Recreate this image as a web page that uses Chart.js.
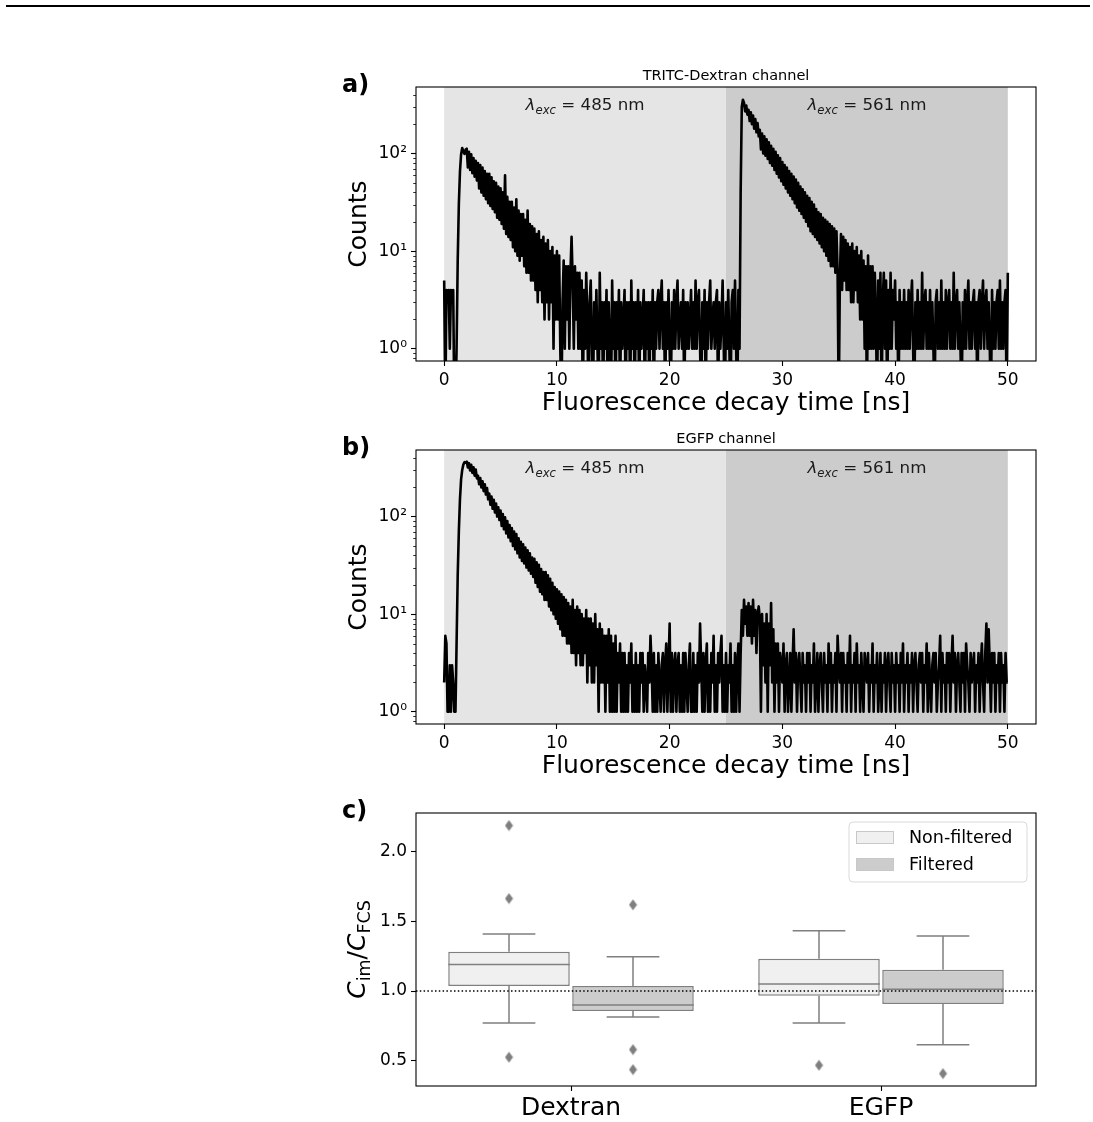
<!DOCTYPE html>
<html>
<head>
<meta charset="utf-8">
<title>Fluorescence decay and concentration ratio</title>
<script src="https://cdn.jsdelivr.net/npm/chart.js@4.4.1/dist/chart.umd.min.js"></script>
<style>
    html, body { margin: 0; padding: 0; background: #fff; }
    body { width: 1093px; height: 1122px; position: relative; overflow: hidden; }
    .top-rule { position: absolute; left: 6px; top: 5px; width: 1084px; height: 2px; background: #000; }
    canvas { position: absolute; left: 330px; }
    #decayA { top: 60px; }
    #decayB { top: 423px; }
    #ratioC { top: 786px; }
</style>
</head>
<body>
<div class="top-rule"></div>
<canvas id="decayA" width="763" height="359"></canvas>
<canvas id="decayB" width="763" height="359"></canvas>
<canvas id="ratioC" width="763" height="336"></canvas>

<script>
/* ── Data: decay histograms (counts per 0.1 ns bin, 0 … 50 ns) ── */
const binWidthNs = 0.1;
const timeTicks = [0, 10, 20, 30, 40, 50];
const countTicks = [1, 10, 100];
const excitationEdges = [0, 25, 50];
const excitationLabels = ['485', '561'];

const tritcCounts = [
    5, 0, 4, 3, 4, 1, 4, 3, 4, 0,
    0, 1, 8, 30, 65, 98, 114, 104, 99, 110,
    112, 72, 104, 68, 98, 63, 90, 58, 84, 53,
    80, 44, 76, 40, 72, 37, 66, 34, 62, 31,
    62, 29, 57, 27, 52, 25, 50, 22, 46, 21,
    44, 19, 40, 17, 60, 15, 36, 14, 32, 13,
    32, 11, 28, 10, 34, 9, 26, 8, 24, 9,
    24, 7, 21, 6, 26, 6, 19, 5, 18, 5,
    17, 4, 15, 3, 16, 4, 13, 3, 14, 2,
    12, 3, 13, 2, 10, 3, 11, 1, 9, 2,
    10, 2, 9, 1, 0, 3, 8, 1, 7, 2,
    7, 1, 6, 14, 5, 1, 7, 2, 6, 1,
    6, 1, 5, 0, 4, 1, 6, 2, 0, 3,
    5, 1, 0, 3, 1, 4, 1, 0, 6, 1,
    3, 0, 3, 1, 4, 0, 3, 1, 0, 5,
    1, 3, 0, 3, 1, 4, 0, 3, 1, 2,
    4, 0, 3, 1, 3, 0, 5, 1, 3, 0,
    3, 1, 4, 0, 3, 1, 2, 4, 0, 3,
    1, 3, 0, 3, 1, 4, 0, 3, 1, 3,
    4, 1, 3, 5, 1, 3, 0, 3, 1, 4,
    1, 0, 3, 1, 4, 1, 3, 5, 1, 2,
    3, 1, 4, 0, 3, 1, 3, 1, 2, 4,
    1, 3, 1, 5, 1, 3, 4, 1, 0, 3,
    1, 4, 0, 3, 1, 3, 5, 1, 2, 3,
    1, 3, 4, 0, 3, 1, 2, 5, 1, 0,
    3, 1, 4, 1, 0, 3, 4, 1, 5, 1,
    0, 4, 1, 40, 300, 355, 330, 270, 310, 250,
    280, 215, 265, 200, 245, 180, 225, 165, 205, 150,
    175, 110, 160, 100, 150, 95, 140, 88, 130, 80,
    120, 75, 112, 68, 104, 62, 96, 57, 90, 52,
    82, 48, 76, 44, 72, 40, 66, 37, 62, 34,
    58, 31, 54, 28, 50, 26, 46, 24, 43, 22,
    40, 20, 37, 18, 35, 16, 32, 15, 30, 14,
    27, 13, 25, 12, 24, 11, 22, 10, 21, 9,
    20, 8, 19, 7, 18, 7, 17, 6, 16, 6,
    0, 5, 15, 4, 14, 5, 13, 4, 12, 4,
    11, 3, 12, 3, 10, 4, 11, 3, 9, 2,
    10, 2, 8, 1, 7, 0, 9, 1, 7, 1,
    7, 1, 6, 2, 0, 5, 1, 6, 0, 3,
    6, 1, 5, 0, 4, 1, 6, 1, 4, 2,
    5, 1, 3, 0, 4, 1, 3, 1, 4, 1,
    3, 1, 4, 1, 3, 5, 1, 0, 3, 1,
    4, 1, 3, 1, 6, 1, 3, 4, 1, 3,
    1, 4, 1, 3, 1, 0, 3, 4, 1, 3,
    1, 5, 1, 3, 1, 4, 1, 3, 4, 1,
    3, 1, 6, 1, 3, 4, 1, 3, 1, 0,
    3, 1, 4, 1, 3, 5, 1, 3, 1, 3,
    4, 1, 3, 0, 3, 4, 1, 3, 5, 1,
    3, 4, 1, 3, 1, 0, 4, 1, 3, 1,
    3, 4, 1, 5, 1, 3, 1, 3, 4, 0,
    6
];

const egfpCounts = [
    2, 6, 5, 1, 1, 3, 1, 3, 2, 1,
    1, 5, 25, 70, 150, 240, 300, 340, 360, 356,
    365, 318, 352, 296, 338, 280, 320, 262, 302, 246,
    262, 214, 248, 198, 230, 182, 214, 168, 196, 150,
    172, 132, 160, 120, 148, 110, 136, 100, 124, 92,
    115, 80, 106, 74, 98, 67, 90, 61, 82, 56,
    76, 50, 70, 46, 66, 42, 60, 38, 55, 35,
    52, 33, 48, 30, 45, 28, 42, 26, 38, 24,
    37, 21, 34, 19, 32, 17, 29, 16, 27, 14,
    27, 14, 25, 12, 23, 11, 21, 10, 19, 9,
    18, 8, 17, 7, 16, 6, 15, 6, 14, 5,
    13, 5, 12, 4, 14, 4, 11, 3, 12, 4,
    11, 3, 10, 3, 9, 4, 11, 2, 9, 3,
    9, 2, 8, 2, 10, 3, 7, 1, 8, 2,
    7, 2, 6, 1, 6, 2, 7, 1, 6, 1,
    5, 1, 6, 1, 4, 2, 5, 1, 4, 1,
    4, 1, 3, 1, 4, 2, 5, 1, 3, 1,
    4, 1, 3, 1, 4, 2, 4, 1, 3, 2,
    1, 4, 2, 6, 3, 1, 4, 1, 3, 1,
    4, 2, 1, 3, 4, 1, 3, 5, 1, 3,
    8, 1, 4, 1, 3, 4, 1, 3, 4, 1,
    3, 1, 4, 1, 4, 2, 1, 3, 5, 1,
    1, 4, 1, 3, 1, 4, 2, 8, 3, 1,
    4, 1, 3, 5, 1, 3, 1, 4, 2, 6,
    1, 3, 1, 4, 2, 4, 6, 1, 3, 1,
    4, 1, 3, 2, 5, 1, 3, 1, 4, 1,
    3, 5, 1, 4, 11, 6, 14, 8, 12, 6,
    13, 6, 12, 5, 14, 6, 11, 4, 10, 12,
    9, 1, 10, 3, 8, 2, 10, 1, 8, 3,
    13, 2, 7, 1, 5, 2, 5, 1, 4, 3,
    2, 5, 1, 3, 4, 1, 2, 4, 1, 3,
    7, 2, 4, 1, 3, 4, 2, 1, 4, 2,
    3, 1, 4, 2, 4, 1, 3, 2, 5, 1,
    2, 4, 1, 3, 4, 2, 1, 4, 2, 3,
    1, 5, 2, 4, 1, 3, 2, 4, 1, 6,
    3, 2, 4, 1, 4, 2, 3, 1, 4, 2,
    6, 1, 3, 2, 4, 1, 5, 2, 3, 1,
    4, 2, 1, 4, 3, 2, 4, 1, 3, 2,
    5, 1, 3, 2, 4, 1, 2, 4, 1, 3,
    2, 4, 1, 3, 4, 2, 1, 4, 2, 3,
    1, 4, 2, 3, 1, 4, 2, 5, 1, 3,
    2, 4, 1, 3, 2, 4, 1, 3, 4, 2,
    1, 3, 4, 2, 4, 1, 3, 2, 5, 1,
    4, 2, 1, 3, 4, 2, 4, 1, 2, 3,
    6, 1, 4, 2, 3, 1, 4, 2, 4, 1,
    3, 6, 2, 4, 1, 3, 4, 2, 1, 4,
    2, 4, 1, 5, 3, 2, 1, 4, 2, 3,
    4, 1, 3, 2, 4, 1, 3, 5, 2, 1,
    4, 8, 2, 7, 3, 1, 4, 2, 4, 1,
    3, 2, 4, 1, 4, 2, 3, 1, 4, 2,
    2
];

/* ── Data: C_im / C_FCS box plot ── */
const samples = ['Dextran', 'EGFP'];
const conditions = ['Non-filtered', 'Filtered'];
const sampleTicks = [0, 1];
const ratioTicks = [0.5, 1.0, 1.5, 2.0];
const referenceRatio = 1.0;

const nonFilteredLow = [0.77, 0.77];
const nonFilteredQ1 = [1.036, 0.966];
const nonFilteredMedian = [1.19, 1.05];
const nonFilteredQ3 = [1.283, 1.232];
const nonFilteredHigh = [1.41, 1.434];
const nonFilteredOutliers = [[2.19, 1.665, 0.524], [0.466]];

const filteredLow = [0.813, 0.613];
const filteredQ1 = [0.856, 0.906];
const filteredMedian = [0.90, 1.012];
const filteredQ3 = [1.036, 1.153];
const filteredHigh = [1.247, 1.396];
const filteredOutliers = [[1.62, 0.579, 0.435], [0.406]];

/* ── Styling ── */
const FONT = '"DejaVu Sans", sans-serif';
const SPAN_COLORS = ['#e5e5e5', '#cccccc'];
const BOX_FILLS = ['#f0f0f0', '#cccccc'];
const BOX_EDGE = '#7f7f7f';
const LOG_MIN = 0.75;
const LOG_MAX = 480;
const TICK_FONT = 17;
const SUPERSCRIPT = ['⁰', '¹', '²', '³'];

Chart.defaults.font.family = FONT;
Chart.defaults.color = '#000';

const tickGrid = { display: true, drawOnChartArea: false, drawTicks: true, tickLength: 5, color: '#000', tickWidth: 1.1, offset: false };

// ── Shared drawing helpers ──
function drawFrame(ctx, a) {
    ctx.strokeStyle = '#000';
    ctx.lineWidth = 1.1;
    ctx.strokeRect(a.left, a.top, a.right - a.left, a.bottom - a.top);
}

function drawPanelText(ctx, a, letter, title) {
    ctx.fillStyle = '#000';
    ctx.textBaseline = 'alphabetic';
    ctx.textAlign = 'left';
    ctx.font = `bold 24px ${FONT}`;
    ctx.fillText(letter, 12, a.top + 5);
    if (title) {
        ctx.textAlign = 'center';
        ctx.font = `14.5px ${FONT}`;
        ctx.fillText(title, (a.left + a.right) / 2, a.top - 7);
    }
}

function drawLambda(ctx, cx, baseline, nm) {
    const main = `italic 16.7px ${FONT}`;
    const sub = `italic 11.7px ${FONT}`;
    const plain = `16.7px ${FONT}`;
    const tail = ` = ${nm} nm`;
    ctx.font = main; const w1 = ctx.measureText('λ').width;
    ctx.font = sub; const w2 = ctx.measureText('exc').width;
    ctx.font = plain; const w3 = ctx.measureText(tail).width;
    let px = cx - (w1 + w2 + w3) / 2;
    ctx.fillStyle = '#1a1a1a';
    ctx.textAlign = 'left';
    ctx.textBaseline = 'alphabetic';
    ctx.font = main; ctx.fillText('λ', px, baseline); px += w1;
    ctx.font = sub; ctx.fillText('exc', px, baseline + 4); px += w2;
    ctx.font = plain; ctx.fillText(tail, px, baseline);
}

// ── Decay panels (a, b) ──
const decayDecor = {
    id: 'decayDecor',
    beforeDatasetsDraw(chart) {
        const { ctx, chartArea: a } = chart;
        const x = chart.scales.x;
        ctx.save();
        excitationLabels.forEach((_, i) => {
            const x0 = x.getPixelForValue(excitationEdges[i]);
            const x1 = x.getPixelForValue(excitationEdges[i + 1]);
            ctx.fillStyle = SPAN_COLORS[i];
            ctx.fillRect(x0, a.top, x1 - x0, a.bottom - a.top);
        });
        ctx.restore();
    },
    afterDraw(chart, args, opts) {
        const { ctx, chartArea: a } = chart;
        const x = chart.scales.x;
        const y = chart.scales.y;
        ctx.save();

        // minor ticks of the log axis
        ctx.strokeStyle = '#000';
        ctx.lineWidth = 0.8;
        for (let k = -1; k <= 2; k++) {
            for (let m = 2; m <= 9; m++) {
                const v = m * Math.pow(10, k);
                if (v < LOG_MIN || v > LOG_MAX) continue;
                const py = Math.round(y.getPixelForValue(v)) + 0.5;
                ctx.beginPath();
                ctx.moveTo(a.left - 2.8, py);
                ctx.lineTo(a.left, py);
                ctx.stroke();
            }
        }

        excitationLabels.forEach((nm, i) => {
            const cx = x.getPixelForValue((excitationEdges[i] + excitationEdges[i + 1]) / 2);
            drawLambda(ctx, cx, a.top + 23, nm);
        });

        drawFrame(ctx, a);
        drawPanelText(ctx, a, opts.letter, opts.title);
        ctx.restore();
    }
};

function createDecayChart(canvasId, counts, letter, title) {
    // empty bins (0 counts) fall below the log axis, like matplotlib's clipping
    const points = counts.map((c, i) => ({ x: i * binWidthNs, y: c > 0 ? c : LOG_MIN / 3 }));

    return new Chart(document.getElementById(canvasId), {
        type: 'line',
        data: {
            datasets: [{
                data: points,
                borderColor: '#000',
                borderWidth: 2.6,
                borderJoinStyle: 'round',
                pointRadius: 0,
                tension: 0,
            }]
        },
        options: {
            responsive: false,
            animation: false,
            events: [],
            layout: { padding: { left: 0, right: 57, top: 27, bottom: 0 } },
            plugins: {
                legend: { display: false },
                tooltip: { enabled: false },
                decayDecor: { letter, title },
            },
            scales: {
                x: {
                    type: 'linear',
                    min: -2.5,
                    max: 52.5,
                    afterBuildTicks: s => { s.ticks = timeTicks.map(v => ({ value: v })); },
                    afterFit: s => { s.height = 58; },
                    grid: tickGrid,
                    border: { display: false },
                    ticks: { font: { size: TICK_FONT }, color: '#000', padding: 4, maxRotation: 0, autoSkip: false },
                    title: {
                        display: true,
                        text: 'Fluorescence decay time [ns]',
                        font: { size: 25 },
                        color: '#000',
                        padding: { top: 0, bottom: 1 },
                    },
                },
                y: {
                    type: 'logarithmic',
                    min: LOG_MIN,
                    max: LOG_MAX,
                    afterBuildTicks: s => { s.ticks = countTicks.map(v => ({ value: v })); },
                    afterFit: s => { s.width = 86; },
                    grid: tickGrid,
                    border: { display: false },
                    ticks: {
                        font: { size: TICK_FONT },
                        color: '#000',
                        padding: 4,
                        autoSkip: false,
                        callback: v => '10' + SUPERSCRIPT[Math.round(Math.log10(v))],
                    },
                    title: {
                        display: true,
                        text: 'Counts',
                        font: { size: 25 },
                        color: '#000',
                        padding: { top: 14, bottom: 0 },
                    },
                },
            },
        },
        plugins: [decayDecor],
    });
}

createDecayChart('decayA', tritcCounts, 'a)', 'TRITC-Dextran channel');
createDecayChart('decayB', egfpCounts, 'b)', 'EGFP channel');

// ── Box plot panel (c) ──
const HUE_OFFSET = [-0.2, 0.2];
const BOX_HALF = 0.196;
const CAP_HALF = 0.085;

const conditionStats = [
    { low: nonFilteredLow, q1: nonFilteredQ1, med: nonFilteredMedian, q3: nonFilteredQ3, high: nonFilteredHigh, out: nonFilteredOutliers },
    { low: filteredLow, q1: filteredQ1, med: filteredMedian, q3: filteredQ3, high: filteredHigh, out: filteredOutliers },
];

const boxLinePoints = [];
const outlierPoints = [];
conditionStats.forEach((s, h) => {
    samples.forEach((_, i) => {
        const cx = i + HUE_OFFSET[h];
        const gap = { x: cx, y: null };
        // whiskers
        boxLinePoints.push({ x: cx, y: s.low[i] }, { x: cx, y: s.q1[i] }, gap);
        boxLinePoints.push({ x: cx, y: s.q3[i] }, { x: cx, y: s.high[i] }, gap);
        // caps
        [s.low[i], s.high[i]].forEach(v => {
            boxLinePoints.push({ x: cx - CAP_HALF, y: v }, { x: cx + CAP_HALF, y: v }, gap);
        });
        // median
        boxLinePoints.push({ x: cx - BOX_HALF, y: s.med[i] }, { x: cx + BOX_HALF, y: s.med[i] }, gap);
        s.out[i].forEach(v => outlierPoints.push({ x: cx, y: v }));
    });
});

// thin diamond marker, like matplotlib's 'd'
const diamond = document.createElement('canvas');
diamond.width = 9;
diamond.height = 12;
(function () {
    const d = diamond.getContext('2d');
    d.fillStyle = BOX_EDGE;
    d.beginPath();
    d.moveTo(4.5, 0.5);
    d.lineTo(8.5, 6);
    d.lineTo(4.5, 11.5);
    d.lineTo(0.5, 6);
    d.closePath();
    d.fill();
})();

function roundRectPath(ctx, x, y, w, h, r) {
    ctx.beginPath();
    ctx.moveTo(x + r, y);
    ctx.arcTo(x + w, y, x + w, y + h, r);
    ctx.arcTo(x + w, y + h, x, y + h, r);
    ctx.arcTo(x, y + h, x, y, r);
    ctx.arcTo(x, y, x + w, y, r);
    ctx.closePath();
}

const ratioDecor = {
    id: 'ratioDecor',
    afterDraw(chart) {
        const { ctx, chartArea: a } = chart;
        ctx.save();
        drawFrame(ctx, a);
        drawPanelText(ctx, a, 'c)', '');

        // y label: C_im / C_FCS
        const parts = [
            { t: 'C', f: `italic 25px ${FONT}`, dy: 0 },
            { t: 'im', f: `17.5px ${FONT}`, dy: 5 },
            { t: '/', f: `25px ${FONT}`, dy: 0 },
            { t: 'C', f: `italic 25px ${FONT}`, dy: 0 },
            { t: 'FCS', f: `17.5px ${FONT}`, dy: 5 },
        ];
        let total = 0;
        parts.forEach(p => { ctx.font = p.f; p.w = ctx.measureText(p.t).width; total += p.w; });
        ctx.save();
        ctx.translate(a.left - 51, (a.top + a.bottom) / 2);
        ctx.rotate(-Math.PI / 2);
        ctx.fillStyle = '#000';
        ctx.textAlign = 'left';
        ctx.textBaseline = 'alphabetic';
        let px = -total / 2;
        parts.forEach(p => { ctx.font = p.f; ctx.fillText(p.t, px, p.dy); px += p.w; });
        ctx.restore();

        // legend
        const lw = 178, lh = 60;
        const lx = a.right - 9 - lw, ly = a.top + 9;
        roundRectPath(ctx, lx, ly, lw, lh, 4);
        ctx.fillStyle = 'rgba(255,255,255,0.8)';
        ctx.fill();
        ctx.strokeStyle = '#d9d9d9';
        ctx.lineWidth = 1;
        ctx.stroke();
        ctx.font = `17.5px ${FONT}`;
        ctx.textBaseline = 'middle';
        conditions.forEach((name, h) => {
            const ry = ly + 9 + h * 27;
            ctx.fillStyle = BOX_FILLS[h];
            ctx.fillRect(lx + 7, ry, 38, 13);
            ctx.strokeStyle = '#c8c8c8';
            ctx.strokeRect(lx + 7.5, ry + 0.5, 37, 12);
            ctx.fillStyle = '#000';
            ctx.fillText(name, lx + 60, ry + 7);
        });
        ctx.restore();
    }
};

new Chart(document.getElementById('ratioC'), {
    type: 'bar',
    data: {
        datasets: [
            ...conditions.map((name, h) => ({
                type: 'bar',
                label: name,
                data: samples.map((_, i) => ({
                    x: i + HUE_OFFSET[h],
                    y: [conditionStats[h].q1[i], conditionStats[h].q3[i]],
                })),
                backgroundColor: BOX_FILLS[h],
                borderColor: BOX_EDGE,
                borderWidth: 1.5,
                borderSkipped: false,
                grouped: false,
                categoryPercentage: 1,
                barPercentage: 0.98,
                order: 4,
            })),
            {
                type: 'line',
                label: 'whiskers',
                data: boxLinePoints,
                borderColor: BOX_EDGE,
                borderWidth: 1.5,
                pointRadius: 0,
                spanGaps: false,
                order: 3,
            },
            {
                type: 'scatter',
                label: 'outliers',
                data: outlierPoints,
                pointStyle: diamond,
                pointRadius: 5,
                order: 2,
            },
            {
                type: 'line',
                label: 'reference',
                data: [{ x: -0.5, y: referenceRatio }, { x: 1.5, y: referenceRatio }],
                borderColor: '#000',
                borderWidth: 1.5,
                borderDash: [1.5, 2.3],
                pointRadius: 0,
                order: 0,
            },
        ],
    },
    options: {
        responsive: false,
        animation: false,
        events: [],
        layout: { padding: { left: 0, right: 57, top: 27, bottom: 0 } },
        plugins: { legend: { display: false }, tooltip: { enabled: false } },
        scales: {
            x: {
                type: 'linear',
                min: -0.5,
                max: 1.5,
                offset: false,
                afterBuildTicks: s => { s.ticks = sampleTicks.map(v => ({ value: v })); },
                afterFit: s => { s.height = 36; },
                grid: tickGrid,
                border: { display: false },
                ticks: { font: { size: 25 }, color: '#000', padding: 2, maxRotation: 0, autoSkip: false, callback: v => samples[v] },
            },
            y: {
                type: 'linear',
                min: 0.317,
                max: 2.28,
                afterBuildTicks: s => { s.ticks = ratioTicks.map(v => ({ value: v })); },
                afterFit: s => { s.width = 86; },
                grid: tickGrid,
                border: { display: false },
                ticks: { font: { size: TICK_FONT }, color: '#000', padding: 4, callback: v => v.toFixed(1) },
            },
        },
    },
    plugins: [ratioDecor],
});
</script>
</body>
</html>
